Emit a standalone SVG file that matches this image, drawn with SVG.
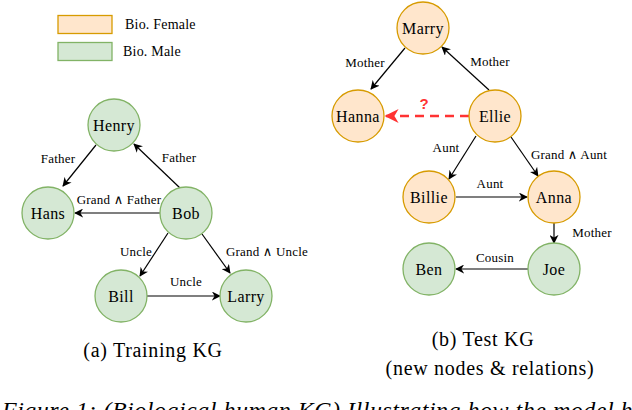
<svg xmlns="http://www.w3.org/2000/svg" width="632" height="410" viewBox="0 0 632 410">
<style>
.f{fill:#ffe6cc;stroke:#d79b00;stroke-width:1.3}
.m{fill:#d5e8d4;stroke:#82b366;stroke-width:1.3}
.n{font-size:16px;letter-spacing:0.4px;text-anchor:middle;dominant-baseline:central}
.e{font-size:13px;letter-spacing:0.2px;text-anchor:middle;dominant-baseline:central}
.lg{font-size:14px;letter-spacing:0.2px;dominant-baseline:central}
.cap{font-size:20px;letter-spacing:0.7px;text-anchor:middle;dominant-baseline:central}
.c line{stroke:#000;stroke-width:1.2;marker-end:url(#a)}
</style>
<defs>
<marker id="a" viewBox="0 0 10 10" refX="9" refY="5" markerWidth="9" markerHeight="9" markerUnits="userSpaceOnUse" orient="auto"><path d="M0,0 L10,5 L0,10 L3,5 z" fill="#000"/></marker>
<marker id="r" viewBox="0 0 10 10" refX="9" refY="5" markerWidth="14" markerHeight="14" markerUnits="userSpaceOnUse" orient="auto"><path d="M0,0 L10,5 L0,10 L3,5 z" fill="#ff3333"/></marker>
</defs>
<g font-family="Liberation Serif, Times New Roman, DejaVu Serif, serif" fill="#000">
<g id="legend">
<rect class="f" x="58" y="15.5" width="54" height="18"/>
<text class="lg" x="125" y="24.5">Bio. Female</text>
<rect class="m" x="58" y="42.5" width="54" height="18"/>
<text class="lg" x="123" y="51.5">Bio. Male</text>
</g>
<g class="c" id="connectors">
<line x1="96" y1="145" x2="63" y2="186"/>
<line x1="180" y1="188" x2="134" y2="144"/>
<line x1="160" y1="213" x2="75" y2="213"/>
<line x1="168" y1="233" x2="140" y2="276"/>
<line x1="202" y1="234" x2="230" y2="273"/>
<line x1="147" y1="296" x2="220" y2="296"/>
<line x1="405" y1="48" x2="371" y2="89"/>
<line x1="489" y1="90" x2="442" y2="47"/>
<line x1="476" y1="136" x2="449" y2="179"/>
<line x1="511" y1="137" x2="538" y2="176"/>
<line x1="456" y1="197" x2="527" y2="197"/>
<line x1="554" y1="223" x2="554" y2="243"/>
<line x1="528" y1="269" x2="456" y2="269"/>
<line x1="469" y1="116" x2="386" y2="116" style="stroke:#ff3333;stroke-width:2.5;stroke-dasharray:9 6;marker-end:url(#r)"/>
</g>
<g id="edge-labels">
<text class="e" x="58" y="158">Father</text>
<text class="e" x="179" y="157">Father</text>
<text class="e" x="119" y="199">Grand ∧ Father</text>
<text class="e" x="136" y="251">Uncle</text>
<text class="e" x="267" y="251">Grand ∧ Uncle</text>
<text class="e" x="186" y="281">Uncle</text>
<text class="e" x="365" y="62">Mother</text>
<text class="e" x="490" y="61">Mother</text>
<text x="424" y="103" font-family="Liberation Sans, Arial, sans-serif" font-size="15" font-weight="bold" fill="#ff3333" text-anchor="middle" dominant-baseline="central">?</text>
<text class="e" x="446" y="147">Aunt</text>
<text class="e" x="569" y="154">Grand ∧ Aunt</text>
<text class="e" x="490" y="183">Aunt</text>
<text class="e" x="592" y="232">Mother</text>
<text class="e" x="495" y="257">Cousin</text>
</g>
<g id="henry"><circle class="m" cx="114" cy="125" r="26"/><text class="n" x="114" y="125">Henry</text></g>
<g id="hans"><circle class="m" cx="48" cy="213" r="26"/><text class="n" x="48" y="213">Hans</text></g>
<g id="bob"><circle class="m" cx="186" cy="213" r="26"/><text class="n" x="186" y="213">Bob</text></g>
<g id="bill"><circle class="m" cx="121" cy="296" r="26"/><text class="n" x="121" y="296">Bill</text></g>
<g id="larry"><circle class="m" cx="246" cy="296" r="26"/><text class="n" x="246" y="296">Larry</text></g>
<g id="marry"><circle class="f" cx="423" cy="28" r="26"/><text class="n" x="423" y="28">Marry</text></g>
<g id="hanna"><circle class="f" cx="358" cy="116" r="26"/><text class="n" x="358" y="116">Hanna</text></g>
<g id="ellie"><circle class="f" cx="495" cy="116" r="26"/><text class="n" x="495" y="116">Ellie</text></g>
<g id="billie"><circle class="f" cx="429" cy="197" r="26"/><text class="n" x="429" y="197">Billie</text></g>
<g id="anna"><circle class="f" cx="554" cy="197" r="26"/><text class="n" x="554" y="197">Anna</text></g>
<g id="ben"><circle class="m" cx="429" cy="269" r="26"/><text class="n" x="429" y="269">Ben</text></g>
<g id="joe"><circle class="m" cx="554" cy="269" r="26"/><text class="n" x="554" y="269">Joe</text></g>
<g id="captions">
<text class="cap" x="153" y="350">(a) Training KG</text>
<text class="cap" x="483" y="339">(b) Test KG</text>
<text class="cap" x="490" y="368">(new nodes &amp; relations)</text>
<text x="2" y="418" font-size="24" letter-spacing="0.5" font-style="italic">Figure 1: (Biological human KG) Illustrating how the model handles</text>
</g>
</g>
</svg>
